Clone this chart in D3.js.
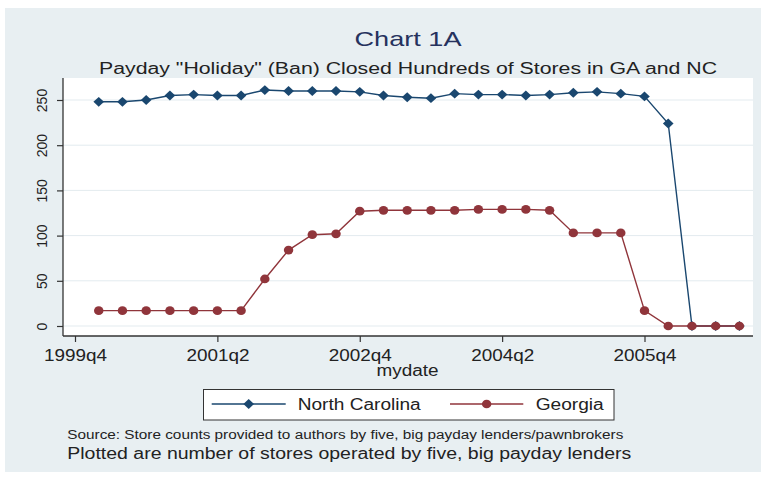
<!DOCTYPE html>
<html>
<head>
<meta charset="utf-8">
<script src="https://cdn.jsdelivr.net/npm/d3@7/dist/d3.min.js"></script>
<style>
  html, body { margin: 0; padding: 0; background: #ffffff; }
  svg { display: block; font-family: "Liberation Sans", Arial, Helvetica, sans-serif; }
</style>
</head>
<body>
<svg id="chart" width="761" height="477"></svg>
<script>
// ---- data ----
const quarters = ["2000q1","2000q2","2000q3","2000q4","2001q1","2001q2","2001q3","2001q4",
                  "2002q1","2002q2","2002q3","2002q4","2003q1","2003q2","2003q3","2003q4",
                  "2004q1","2004q2","2004q3","2004q4","2005q1","2005q2","2005q3","2005q4",
                  "2006q1","2006q2","2006q3","2006q4"];
const northCarolina = [248,248,250,255,256,255,255,261,260,260,260,259,255,253,252,257,
                       256,256,255,256,258,259,257,254,224,0,0,0];
const georgia = [17,17,17,17,17,17,17,52,84,101,102,127,128,128,128,128,
                 129,129,129,128,103,103,103,17,0,0,0,0];
const xTickLabels = ["1999q4","2001q2","2002q4","2004q2","2005q4"];
const yTicks = [0,50,100,150,200,250];
const seriesNames = ["North Carolina","Georgia"];

// ---- helpers ----
const qIndex = s => (+s.slice(0,4) - 1999) * 4 + (+s.slice(5)) - 4;

const svg = d3.select("#chart");
const W = 761, H = 477;
const plot = {left: 63, right: 753, top: 78, bottom: 336};
const navy = "#1a476f", maroon = "#90353b";
const bg = "#e8eff2";
const textCol = "#222222";

// background
svg.append("rect").attr("x", 5).attr("y", 8).attr("width", W - 5).attr("height", 464).attr("fill", bg);
svg.append("rect").attr("x", plot.left).attr("y", plot.top)
  .attr("width", plot.right - plot.left).attr("height", plot.bottom - plot.top).attr("fill", "#ffffff");

// scales
const x = d3.scaleLinear().domain([0, 24]).range([75, 644.5]);
const y = d3.scaleLinear().domain([0, 250]).range([326, 100]);

// grid
svg.append("g").selectAll("line").data(yTicks).join("line")
  .attr("x1", plot.left).attr("x2", plot.right)
  .attr("y1", d => y(d)).attr("y2", d => y(d))
  .attr("stroke", "#e3ebef").attr("stroke-width", 1);

// axes
const xAxis = d3.axisBottom(x)
  .tickValues(xTickLabels.map(qIndex))
  .tickFormat((d, i) => xTickLabels[i])
  .tickSize(6).tickSizeOuter(0);
const gx = svg.append("g").attr("transform", `translate(0,${plot.bottom})`).call(xAxis);
gx.select(".domain").remove();
gx.selectAll(".tick line").attr("stroke", "#333").attr("stroke-width", 1.2);
gx.selectAll(".tick text")
  .attr("y", 25).attr("dy", null)
  .attr("font-size", 16).attr("fill", textCol)
  .attr("textLength", 63).attr("lengthAdjust", "spacingAndGlyphs");

const yAxis = d3.axisLeft(y).tickValues(yTicks).tickSize(6).tickSizeOuter(0);
const gy = svg.append("g").attr("transform", `translate(${plot.left},0)`).call(yAxis);
gy.select(".domain").remove();
gy.selectAll(".tick line").attr("stroke", "#333").attr("stroke-width", 1.2);
gy.selectAll(".tick text")
  .attr("x", null).attr("dy", null)
  .attr("transform", "translate(-16.5,0) rotate(-90)")
  .attr("text-anchor", "middle")
  .attr("font-size", 14).attr("fill", textCol);

svg.append("line").attr("x1", plot.left).attr("x2", plot.right)
  .attr("y1", plot.bottom).attr("y2", plot.bottom).attr("stroke", "#333").attr("stroke-width", 1.3);
svg.append("line").attr("x1", plot.left).attr("x2", plot.left)
  .attr("y1", plot.top).attr("y2", plot.bottom).attr("stroke", "#333").attr("stroke-width", 1.3);

// series
const series = [
  {name: seriesNames[0], values: northCarolina, color: navy, symbol: "diamond"},
  {name: seriesNames[1], values: georgia, color: maroon, symbol: "circle"}
];
const symPath = k => k === "circle" ? d3.symbol(d3.symbolCircle, 60)() : d3.symbol(d3.symbolDiamond2, 62)();
const line = d3.line().x(d => x(qIndex(d.q))).y(d => y(d.v));
series.forEach(s => {
  const pts = quarters.map((q, i) => ({q, v: s.values[i]}));
  svg.append("path").datum(pts).attr("d", line)
    .attr("fill", "none").attr("stroke", s.color).attr("stroke-width", 1.4);
  svg.append("g").selectAll("path").data(pts).join("path")
    .attr("d", symPath(s.symbol))
    .attr("transform", d => `translate(${x(qIndex(d.q))},${y(d.v)}) scale(1.08,1)`)
    .attr("fill", s.color);
});

// titles
svg.append("text").attr("x", 408).attr("y", 46).attr("text-anchor", "middle")
  .attr("font-size", 21).attr("fill", "#26325e")
  .attr("textLength", 107).attr("lengthAdjust", "spacingAndGlyphs")
  .text("Chart 1A");
svg.append("text").attr("x", 408).attr("y", 74).attr("text-anchor", "middle")
  .attr("font-size", 16).attr("fill", textCol)
  .attr("textLength", 618).attr("lengthAdjust", "spacingAndGlyphs")
  .text('Payday "Holiday" (Ban) Closed Hundreds of Stores in GA and NC');
svg.append("text").attr("x", 407.5).attr("y", 376).attr("text-anchor", "middle")
  .attr("font-size", 16).attr("fill", textCol)
  .attr("textLength", 62).attr("lengthAdjust", "spacingAndGlyphs")
  .text("mydate");

// legend
const lg = svg.append("g");
lg.append("rect").attr("x", 203.5).attr("y", 389.5).attr("width", 410.5).attr("height", 30.5)
  .attr("fill", "#ffffff").attr("stroke", "#333").attr("stroke-width", 1);
const legendItems = [
  {s: series[0], x1: 211.7, x2: 285.7, tx: 297.7, tw: 123},
  {s: series[1], x1: 450, x2: 523.3, tx: 535.7, tw: 68}
];
legendItems.forEach(it => {
  lg.append("line").attr("x1", it.x1).attr("x2", it.x2).attr("y1", 404).attr("y2", 404)
    .attr("stroke", it.s.color).attr("stroke-width", 1.4);
  lg.append("path").attr("d", symPath(it.s.symbol))
    .attr("transform", `translate(${(it.x1 + it.x2) / 2},404) scale(1.08,1)`)
    .attr("fill", it.s.color);
  lg.append("text").attr("x", it.tx).attr("y", 409.5)
    .attr("font-size", 16).attr("fill", textCol)
    .attr("textLength", it.tw).attr("lengthAdjust", "spacingAndGlyphs")
    .text(it.s.name);
});

// notes
svg.append("text").attr("x", 67.3).attr("y", 438.5)
  .attr("font-size", 12.5).attr("fill", textCol)
  .attr("textLength", 556).attr("lengthAdjust", "spacingAndGlyphs")
  .text("Source: Store counts provided to authors by five, big payday lenders/pawnbrokers");
svg.append("text").attr("x", 67.3).attr("y", 458.5)
  .attr("font-size", 16).attr("fill", textCol)
  .attr("textLength", 564).attr("lengthAdjust", "spacingAndGlyphs")
  .text("Plotted are number of stores operated by five, big payday lenders");
</script>
</body>
</html>
